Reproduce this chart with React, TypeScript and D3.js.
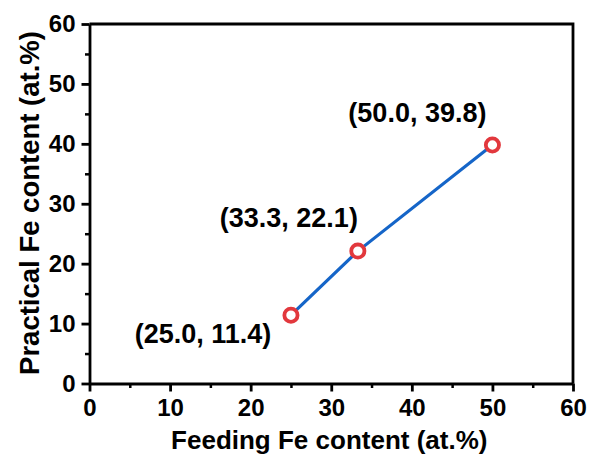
import { useEffect, useRef } from "react";
import { axisBottom, axisLeft, scaleLinear, select, line } from "d3";

const feeding = [25.0, 33.3, 50.0];
const practical = [11.4, 22.1, 39.8];
const labels = ["(25.0, 11.4)", "(33.3, 22.1)", "(50.0, 39.8)"];
const labelOffsets = [
  [-88, 28],
  [-69, -24.5],
  [-75, -23],
];
const majorTicks = [0, 10, 20, 30, 40, 50, 60];
const minorTicks = [5, 15, 25, 35, 45, 55];

const W = 592;
const H = 454;
const margin = { top: 24, right: 19, bottom: 70.5, left: 89.5 };
const font = "Arial, 'Liberation Sans', sans-serif";

export default function App() {
  const ref = useRef<SVGGElement>(null);
  const width = W - margin.left - margin.right;
  const height = H - margin.top - margin.bottom;

  const x = scaleLinear().domain([0, 60]).range([0, width]);
  const y = scaleLinear().domain([0, 60]).range([height, 0]);

  useEffect(() => {
    if (!ref.current) return;
    const g = select(ref.current);
    g.selectAll("*").remove();

    // minor ticks first
    g.append("g")
      .attr("transform", `translate(0,${height})`)
      .call(axisBottom(x).tickValues(minorTicks).tickSize(4.5).tickFormat(() => ""))
      .call((s) => s.select(".domain").remove())
      .selectAll("line").attr("stroke-width", 2.5);
    g.append("g")
      .call(axisLeft(y).tickValues(minorTicks).tickSize(4.5).tickFormat(() => ""))
      .call((s) => s.select(".domain").remove())
      .selectAll("line").attr("stroke-width", 2.5);

    const xa = g.append("g")
      .attr("transform", `translate(0,${height})`)
      .call(axisBottom(x).tickValues(majorTicks).tickSize(8).tickPadding(7).tickSizeOuter(0));
    const ya = g.append("g")
      .call(axisLeft(y).tickValues(majorTicks).tickSize(8).tickPadding(6).tickSizeOuter(0));
    [xa, ya].forEach((a) => {
      a.select(".domain").attr("stroke-width", 2.8);
      a.selectAll("line").attr("stroke-width", 2.8);
      a.selectAll("text")
        .attr("font-family", font)
        .attr("font-size", 24)
        .attr("font-weight", "bold")
        .attr("fill", "#000");
    });

    // frame top/right
    g.append("path")
      .attr("d", `M0,0H${width}V${height}`)
      .attr("fill", "none")
      .attr("stroke", "#000")
      .attr("stroke-width", 2.8);

    const pts = feeding.map((f, i) => [f, practical[i]] as [number, number]);
    g.append("path")
      .datum(pts)
      .attr("d", line<[number, number]>().x((d) => x(d[0])).y((d) => y(d[1])))
      .attr("fill", "none")
      .attr("stroke", "#1565c8")
      .attr("stroke-width", 3.2);

    g.selectAll("circle.pt")
      .data(pts)
      .join("circle")
      .attr("class", "pt")
      .attr("cx", (d) => x(d[0]))
      .attr("cy", (d) => y(d[1]))
      .attr("r", 6.6)
      .attr("fill", "#fff")
      .attr("stroke", "#e2383d")
      .attr("stroke-width", 3.8);

    g.selectAll("text.lab")
      .data(pts)
      .join("text")
      .attr("class", "lab")
      .attr("x", (d, i) => x(d[0]) + labelOffsets[i][0])
      .attr("y", (d, i) => y(d[1]) + labelOffsets[i][1])
      .attr("text-anchor", "middle")
      .attr("font-family", font)
      .attr("font-size", 27)
      .attr("font-weight", "bold")
      .text((d, i) => labels[i]);

    g.append("text")
      .attr("x", width / 2 - 2)
      .attr("y", height + 65)
      .attr("text-anchor", "middle")
      .attr("font-family", font)
      .attr("font-size", 26)
      .attr("font-weight", "bold")
      .text("Feeding Fe content (at.%)");

    g.append("text")
      .attr("transform", `translate(-51,179) rotate(-90)`)
      .attr("text-anchor", "middle")
      .attr("font-family", font)
      .attr("font-size", 27.5)
      .attr("font-weight", "bold")
      .text("Practical Fe content (at.%)");
  }, []);

  return (
    <svg width={W} height={H} style={{ position: "absolute", left: 0, top: 0, background: "#fff" }}>
      <g ref={ref} transform={`translate(${margin.left},${margin.top})`} />
    </svg>
  );
}
